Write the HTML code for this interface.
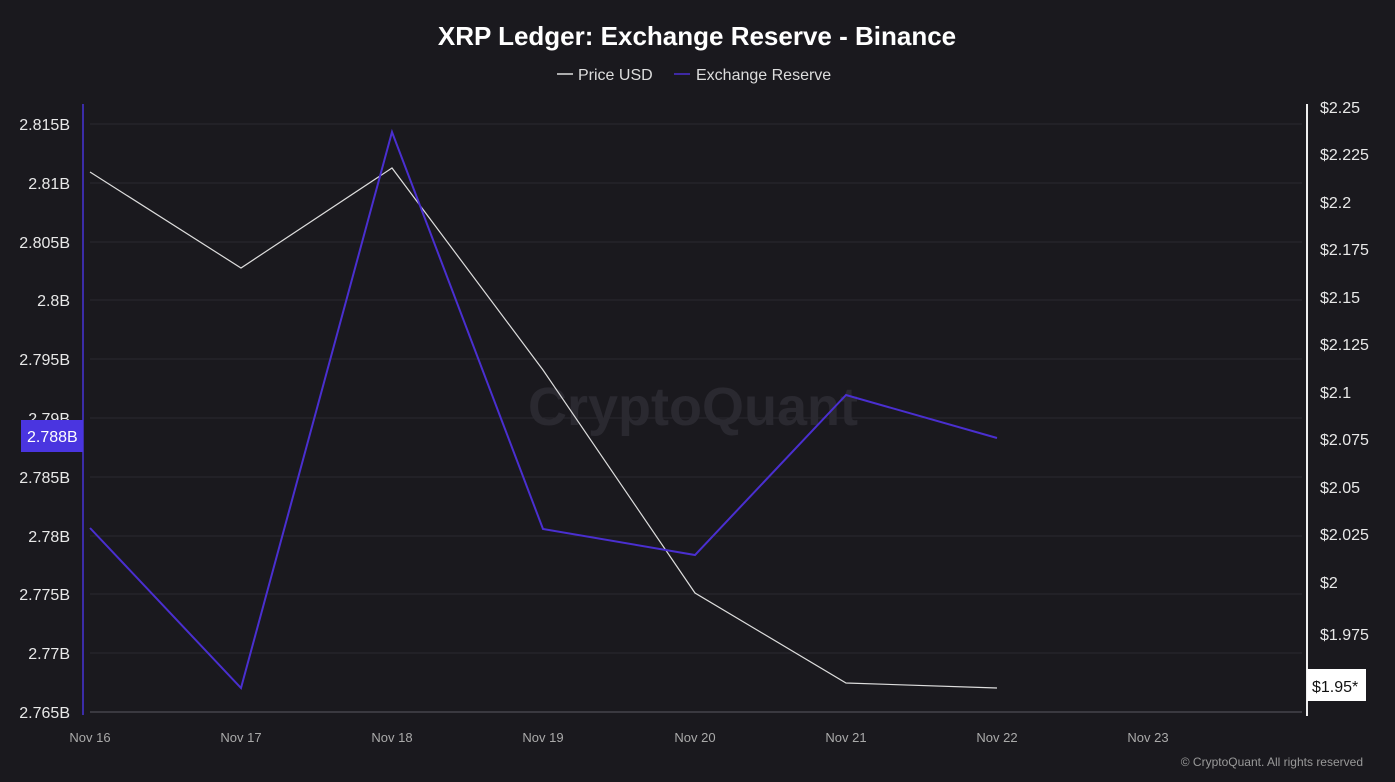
<!DOCTYPE html>
<html><head><meta charset="utf-8"><style>
html,body{margin:0;padding:0;background:#1a191e;}
svg{display:block;font-family:"Liberation Sans",sans-serif;}
</style></head><body>
<svg width="1395" height="782" viewBox="0 0 1395 782">
<rect width="1395" height="782" fill="#1a191e"/>
<text x="697" y="45" text-anchor="middle" fill="#fff" font-size="26" font-weight="bold">XRP Ledger: Exchange Reserve - Binance</text>
<line x1="557" y1="74" x2="573" y2="74" stroke="#ddd" stroke-width="1.5"/>
<text x="578" y="80" fill="#ddd" font-size="16">Price USD</text>
<line x1="674" y1="74" x2="690" y2="74" stroke="#4a2fd0" stroke-width="1.5"/>
<text x="696" y="80" fill="#ddd" font-size="16">Exchange Reserve</text>
<g stroke="#2a2930" stroke-width="1">
<line x1="90" x2="1302" y1="124" y2="124"/><line x1="90" x2="1302" y1="183" y2="183"/>
<line x1="90" x2="1302" y1="242" y2="242"/><line x1="90" x2="1302" y1="300" y2="300"/>
<line x1="90" x2="1302" y1="359" y2="359"/><line x1="90" x2="1302" y1="418" y2="418"/>
<line x1="90" x2="1302" y1="477" y2="477"/><line x1="90" x2="1302" y1="536" y2="536"/>
<line x1="90" x2="1302" y1="594" y2="594"/><line x1="90" x2="1302" y1="653" y2="653"/>
</g>
<line x1="90" x2="1302" y1="712" y2="712" stroke="#3a3940" stroke-width="2"/>
<line x1="83" y1="104" x2="83" y2="715" stroke="#3b2ca8" stroke-width="2"/>
<line x1="1307" y1="104" x2="1307" y2="716" stroke="#eee" stroke-width="2"/>
<g fill="#e8e8e8" font-size="16" text-anchor="end">
<text x="70" y="130">2.815B</text><text x="70" y="189">2.81B</text><text x="70" y="248">2.805B</text>
<text x="70" y="306">2.8B</text><text x="70" y="365">2.795B</text><text x="70" y="424">2.79B</text>
<text x="70" y="483">2.785B</text><text x="70" y="542">2.78B</text><text x="70" y="600">2.775B</text>
<text x="70" y="659">2.77B</text><text x="70" y="718">2.765B</text>
</g>
<rect x="21" y="420" width="62" height="32" fill="#4a35e0"/>
<text x="27" y="442" fill="#fff" font-size="16">2.788B</text>
<g fill="#e8e8e8" font-size="16">
<text x="1320" y="113">$2.25</text><text x="1320" y="160">$2.225</text><text x="1320" y="208">$2.2</text>
<text x="1320" y="255">$2.175</text><text x="1320" y="303">$2.15</text><text x="1320" y="350">$2.125</text>
<text x="1320" y="398">$2.1</text><text x="1320" y="445">$2.075</text><text x="1320" y="493">$2.05</text>
<text x="1320" y="540">$2.025</text><text x="1320" y="588">$2</text><text x="1320" y="640">$1.975</text>
</g>
<rect x="1307" y="669" width="59" height="32" fill="#fff"/>
<text x="1312" y="692" fill="#111" font-size="16">$1.95*</text>
<g fill="#aaa" font-size="13" text-anchor="middle">
<text x="90" y="742">Nov 16</text><text x="241" y="742">Nov 17</text><text x="392" y="742">Nov 18</text>
<text x="543" y="742">Nov 19</text><text x="695" y="742">Nov 20</text><text x="846" y="742">Nov 21</text>
<text x="997" y="742">Nov 22</text><text x="1148" y="742">Nov 23</text>
</g>
<text x="693" y="425" text-anchor="middle" fill="#2a2930" font-size="54" font-weight="bold">CryptoQuant</text>
<text x="1363" y="766" text-anchor="end" fill="#999" font-size="12">© CryptoQuant. All rights reserved</text>
<polyline fill="none" stroke="#ddd" stroke-width="1.2" points="90,172 241,268 392,168 543,370 695,593 846,683 997,688"/>
<polyline fill="none" stroke="#4a2fd0" stroke-width="2" points="90,528 241,688 392,132 543,529 695,555 846,395 997,438"/>
</svg>
</body></html>
